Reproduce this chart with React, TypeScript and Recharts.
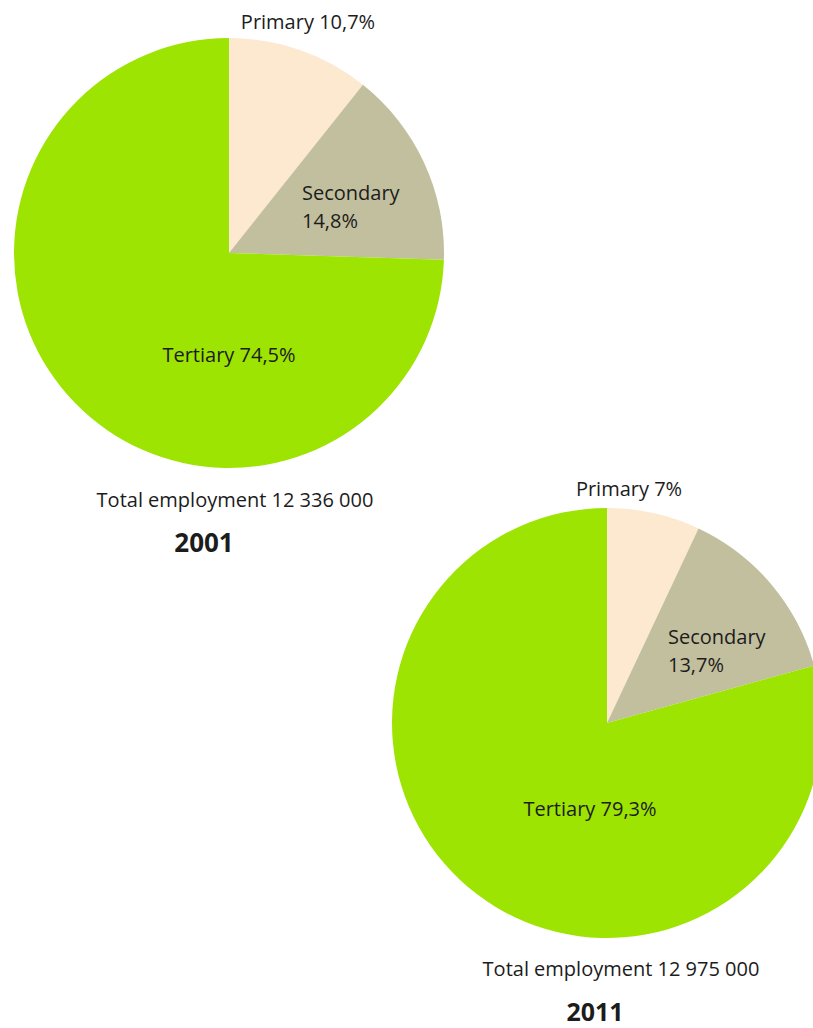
import React from "react";
import { PieChart, Pie, Cell } from "recharts";

const categories = ["Primary", "Secondary", "Tertiary"];
const shares2001 = [10.7, 14.8, 74.5];
const shares2011 = [7, 13.7, 79.3];
const years = ["2001", "2011"];
const totals = ["12 336 000", "12 975 000"];

const COLORS = ["#fde8d0", "#c2bf9e", "#9de403"];
const FONT = "'Open Sans', sans-serif";
const TEXT = "#1c1c1c";

const data2001 = categories.map((name, i) => ({ name, value: shares2001[i] }));
const data2011 = categories.map((name, i) => ({ name, value: shares2011[i] }));

const fmt = (v: number) => String(v).replace(".", ",") + "%";

// hand placed label offsets from the pie centre, one set per pie
const layout2001 = [
  { dx: 79, dy: -232, anchor: "middle" },
  { dx: 73, dy: -61, anchor: "start", split: true },
  { dx: 0, dy: 101, anchor: "middle" },
];
const layout2011 = [
  { dx: 22, dy: -235, anchor: "middle" },
  { dx: 61, dy: -87, anchor: "start", split: true },
  { dx: -17, dy: 85, anchor: "middle" },
];

const makeLabel = (layout: any[]) => (props: any) => {
  const { cx, cy, index, name, value } = props;
  const l = layout[index];
  const x = cx + l.dx;
  const y = cy + l.dy;
  if (l.split) {
    return (
      <text
        x={x}
        y={y}
        fill={TEXT}
        fontFamily={FONT}
        fontSize={20}
        textAnchor={l.anchor}
        dominantBaseline="central"
      >
        <tspan x={x}>{name}</tspan>
        <tspan x={x} dy={28}>
          {fmt(value)}
        </tspan>
      </text>
    );
  }
  return (
    <text
      x={x}
      y={y}
      fill={TEXT}
      fontFamily={FONT}
      fontSize={20}
      textAnchor={l.anchor}
      dominantBaseline="central"
    >
      {name} {fmt(value)}
    </text>
  );
};

const captionStyle: React.CSSProperties = {
  position: "absolute",
  fontFamily: FONT,
  color: TEXT,
  whiteSpace: "nowrap",
  transform: "translate(-50%, -50%)",
  lineHeight: 1,
};

export default function App() {
  return (
    <div
      style={{
        position: "absolute",
        left: 0,
        top: 0,
        width: 813,
        height: 1028,
        background: "#fff",
        overflow: "hidden",
      }}
    >
      <PieChart width={813} height={1028} margin={{ top: 0, right: 0, bottom: 0, left: 0 }}>
        <Pie
          data={data2001}
          dataKey="value"
          nameKey="name"
          cx={229}
          cy={253}
          outerRadius={215}
          startAngle={90}
          endAngle={-270}
          stroke="none"
          label={makeLabel(layout2001)}
          labelLine={false}
          isAnimationActive={false}
        >
          {data2001.map((d, i) => (
            <Cell key={d.name} fill={COLORS[i]} />
          ))}
        </Pie>
        <Pie
          data={data2011}
          dataKey="value"
          nameKey="name"
          cx={607}
          cy={723}
          outerRadius={215}
          startAngle={90}
          endAngle={-270}
          stroke="none"
          label={makeLabel(layout2011)}
          labelLine={false}
          isAnimationActive={false}
        >
          {data2011.map((d, i) => (
            <Cell key={d.name} fill={COLORS[i]} />
          ))}
        </Pie>
      </PieChart>
      <div style={{ ...captionStyle, left: 235, top: 500, fontSize: 20 }}>
        Total employment {totals[0]}
      </div>
      <div style={{ ...captionStyle, left: 204, top: 542, fontSize: 26, fontWeight: 700 }}>
        {years[0]}
      </div>
      <div style={{ ...captionStyle, left: 621, top: 969, fontSize: 20 }}>
        Total employment {totals[1]}
      </div>
      <div style={{ ...captionStyle, left: 595, top: 1011, fontSize: 25, fontWeight: 700 }}>
        {years[1]}
      </div>
    </div>
  );
}
